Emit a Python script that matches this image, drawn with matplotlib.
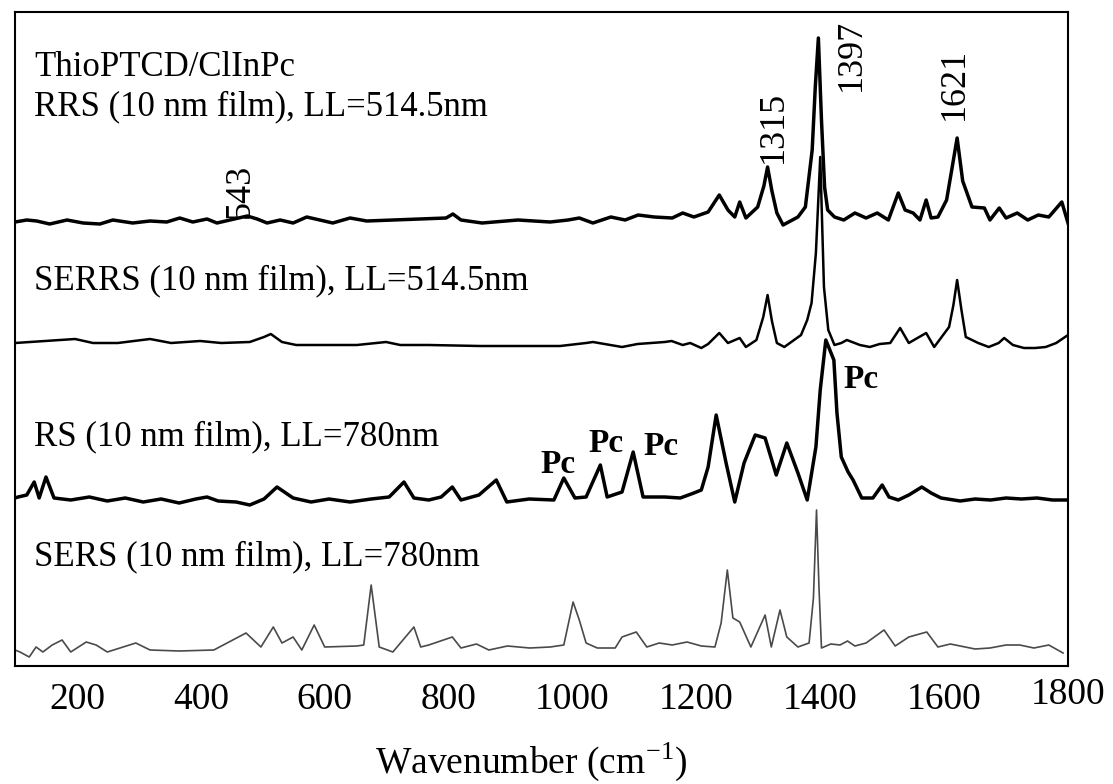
import matplotlib
matplotlib.use("Agg")
import matplotlib.pyplot as plt
from matplotlib.transforms import ScaledTranslation

plt.rcParams['font.family'] = ['Liberation Serif', 'DejaVu Serif']
plt.rcParams['mathtext.fontset'] = 'stix'

# ---- spectra: wavenumber (cm^-1) and intensity above each trace's baseline (a.u.)
rrs_wn = [100, 119, 135, 156, 184, 210, 237, 258, 290, 318, 345, 366, 387, 410, 426,
          447, 475, 491, 507, 528, 549, 571, 592, 613, 641, 668, 796, 807, 820, 854,
          912, 964, 993, 1011, 1033, 1062, 1085, 1106, 1132, 1161, 1178, 1196, 1219,
          1237, 1251, 1262, 1270, 1280, 1299, 1309, 1315, 1322, 1330, 1340, 1364,
          1376, 1387, 1392, 1397, 1402, 1407, 1412, 1423, 1438, 1456, 1474, 1492,
          1510, 1526, 1537, 1550, 1561, 1571, 1579, 1590, 1604, 1612, 1621, 1630,
          1645, 1665, 1674, 1689, 1700, 1718, 1735, 1752, 1769, 1790, 1800]
rrs_int = [-1, 1, 0, -3, 1, -2, -3, 1, -2, 0, -1, 3, -1, 2, -2,
           1, 5, 2, -2, 1, -2, 4, 1, -2, 3, 0, 3, 7, 1, -2,
           1, -1, 1, 3, -2, 4, 1, 6, 4, 3, 8, 4, 9,
           26, 11, 4, 19, 3, 14, 35, 54, 30, 8, -4, 4,
           14, 71, 134, 183, 101, 34, 11, 4, 1, 8, 3, 8,
           1, 28, 11, 8, 1, 21, 3, 4, 21, 50, 83, 40,
           14, 13, 1, 13, 3, 8, 1, 6, 4, 19, -2]

serrs_wn = [100, 197, 226, 266, 318, 352, 399, 433, 479, 502, 513, 531, 554, 594,
            652, 699, 722, 768, 851, 980, 1022, 1033, 1080, 1105, 1149, 1160, 1178,
            1190, 1208, 1219, 1237, 1251, 1270,
            1280, 1297, 1308, 1315, 1322, 1330, 1342, 1369, 1379, 1386, 1393, 1400,
            1406, 1413, 1423, 1434, 1443, 1464, 1480, 1496, 1513, 1529, 1543, 1571,
            1584, 1608, 1615, 1621, 1628, 1635, 1655, 1672, 1688, 1697, 1711, 1729,
            1747, 1764, 1781, 1800]
serrs_int = [2, 6, 2, 2, 6, 2, 4, 2, 3, 8, 11, 3, 0, 0,
             0, 3, 0, 0, -1, -1, 2, 3, -2, 1, 3, 4, 0,
             2, -3, 1, 12, 2, 7,
             -2, 5, 28, 50, 24, 2, -2, 10, 25, 42, 92, 188,
             58, 15, 0, 2, 5, 0, -2, 1, 2, 17, 2, 12,
             -2, 18, 40, 65, 35, 8, 2, -2, 2, 7, 0, -3,
             -3, -2, 2, 10]

rs_wn = [100, 105, 119, 131, 139, 150, 163, 190, 220, 249, 278, 307, 336, 365, 392,
         410, 428, 457, 479, 502, 523, 549, 578, 607, 641, 675, 704, 728, 744, 768,
         788, 806, 820, 849, 877, 894, 930, 970, 986, 1004, 1022, 1045, 1056, 1080,
         1098, 1114, 1149, 1174, 1196, 1208, 1219, 1232, 1248, 1262, 1277, 1295,
         1311, 1329, 1346, 1364, 1379, 1393, 1400, 1409, 1422, 1427, 1434, 1445,
         1453, 1467, 1485, 1500, 1511, 1526, 1543, 1564, 1579, 1595, 1626, 1650,
         1675, 1700, 1725, 1750, 1775, 1800]
rs_int = [2, 3, 5, 18, 2, 23, 2, 0, 3, -1, 2, -2, 1, -3, 1,
          3, -1, -2, -5, 1, 13, 2, -2, 1, -2, 1, 3, 18, 2, 0,
          3, 13, 0, 5, 20, -2, 1, 0, 22, 2, 3, 35, 3, 8,
          48, 3, 3, 2, 7, 10, 33, 85, 37, -2, 37, 65,
          62, 25, 57, 27, 0, 53, 110, 160, 140, 87, 43, 28,
          20, 2, 2, 15, 3, 0, 5, 13, 7, 2, -1, 1,
          0, 2, 1, 2, 0, 0]

sers_wn = [100, 108, 123, 134, 145, 160, 176, 190, 215, 231, 249, 295, 318, 365,
           421, 473, 497, 517, 531, 549, 563, 583, 600, 652, 663, 675, 688, 710,
           744, 755, 768, 806, 820, 845, 865, 895, 931, 964, 986, 1001, 1011, 1022,
           1040, 1069, 1080, 1103, 1120, 1140, 1161, 1185, 1208, 1230, 1240, 1250,
           1259, 1270, 1288, 1311, 1321, 1335, 1346, 1364, 1382, 1389, 1394, 1398,
           1402, 1417, 1432, 1444, 1456, 1474, 1503, 1521, 1543, 1572, 1590, 1610,
           1626, 1650, 1674, 1700, 1722, 1745, 1769, 1792]
sers_int = [-2, -4, -9, 1, -4, 3, 8, -4, 6, 3, -4, 5, -2, -3,
            -2, 15, 1, 21, 5, 11, -2, 23, 1, 2, 3, 63, 1, -4,
            21, 1, 3, 11, 0, 4, -2, 2, 0, 1, 3, 46, 28, 5,
            0, 0, 11, 16, 1, 5, 3, 6, 2, 1, 25, 78,
            30, 26, 1, 33, 1, 38, 11, 1, 5, 50, 138, 60,
            0, 4, 3, 7, 2, 5, 18, 2, 11, 16, 1, 4,
            2, -1, 0, 3, 3, 0, 3, -5]

tick_values = [200, 400, 600, 800, 1000, 1200, 1400, 1600, 1800]

# vertical offsets of the stacked traces
off_rrs, off_serrs, off_rs, off_sers = 445, 321, 166, 18

fig = plt.figure(figsize=(11.13, 7.84), dpi=100)
ax = fig.add_axes([15 / 1113, 118 / 784, 1053 / 1113, 654 / 784])

ax.plot(rrs_wn, [v + off_rrs for v in rrs_int], color='black', lw=2.5)
ax.plot(serrs_wn, [v + off_serrs for v in serrs_int], color='black', lw=1.8)
ax.plot(rs_wn, [v + off_rs for v in rs_int], color='black', lw=2.5)
ax.plot(sers_wn, [v + off_sers for v in sers_int], color='#4a4a4a', lw=1.2)

ax.set_xlim(100, 1800)
ax.set_ylim(0, 654)
ax.set_yticks([])
ax.set_xticks(tick_values)
ax.set_xticklabels([str(t) for t in tick_values])
ax.tick_params(axis='x', length=0, pad=12, labelsize=27)
for s in ax.spines.values():
    s.set_linewidth(1.5)

# the last tick label sits slightly higher than the others
last_label = ax.xaxis.get_major_ticks()[-1].label1
last_label.set_transform(last_label.get_transform()
                         + ScaledTranslation(0, 4 / 72, fig.dpi_scale_trans))

ax.set_xlabel(r'Wavenumber (cm$^{\mathregular{-1}}$)', fontsize=27)
ax.xaxis.label.set_va('baseline')
ax.xaxis.set_label_coords(0.49, -0.163)

# trace captions
fs = 25
ytr = ax.get_yaxis_transform()
ax.text(0.018, 590, 'ThioPTCD/ClInPc', fontsize=fs, transform=ytr)
ax.text(0.018, 551, 'RRS (10 nm film), LL=514.5nm', fontsize=fs, transform=ytr)
ax.text(0.018, 377, 'SERRS (10 nm film), LL=514.5nm', fontsize=fs, transform=ytr)
ax.text(0.018, 221, 'RS (10 nm film), LL=780nm', fontsize=fs, transform=ytr)
ax.text(0.018, 101, 'SERS (10 nm film), LL=780nm', fontsize=fs, transform=ytr)

# peak position labels
for pos, ybot, txt in [(463, 448, '543'), (1325, 503, '1315'),
                       (1450, 575, '1397'), (1616, 546, '1621')]:
    ax.text(pos, ybot, txt, rotation=90, ha='center', va='bottom', fontsize=26)

# phthalocyanine bands
for pos, yb in [(949, 193), (1025, 214), (1114, 211), (1437, 278)]:
    ax.text(pos, yb, 'Pc', fontsize=24, fontweight='bold', va='baseline')

fig.savefig('out.png', dpi=100)
